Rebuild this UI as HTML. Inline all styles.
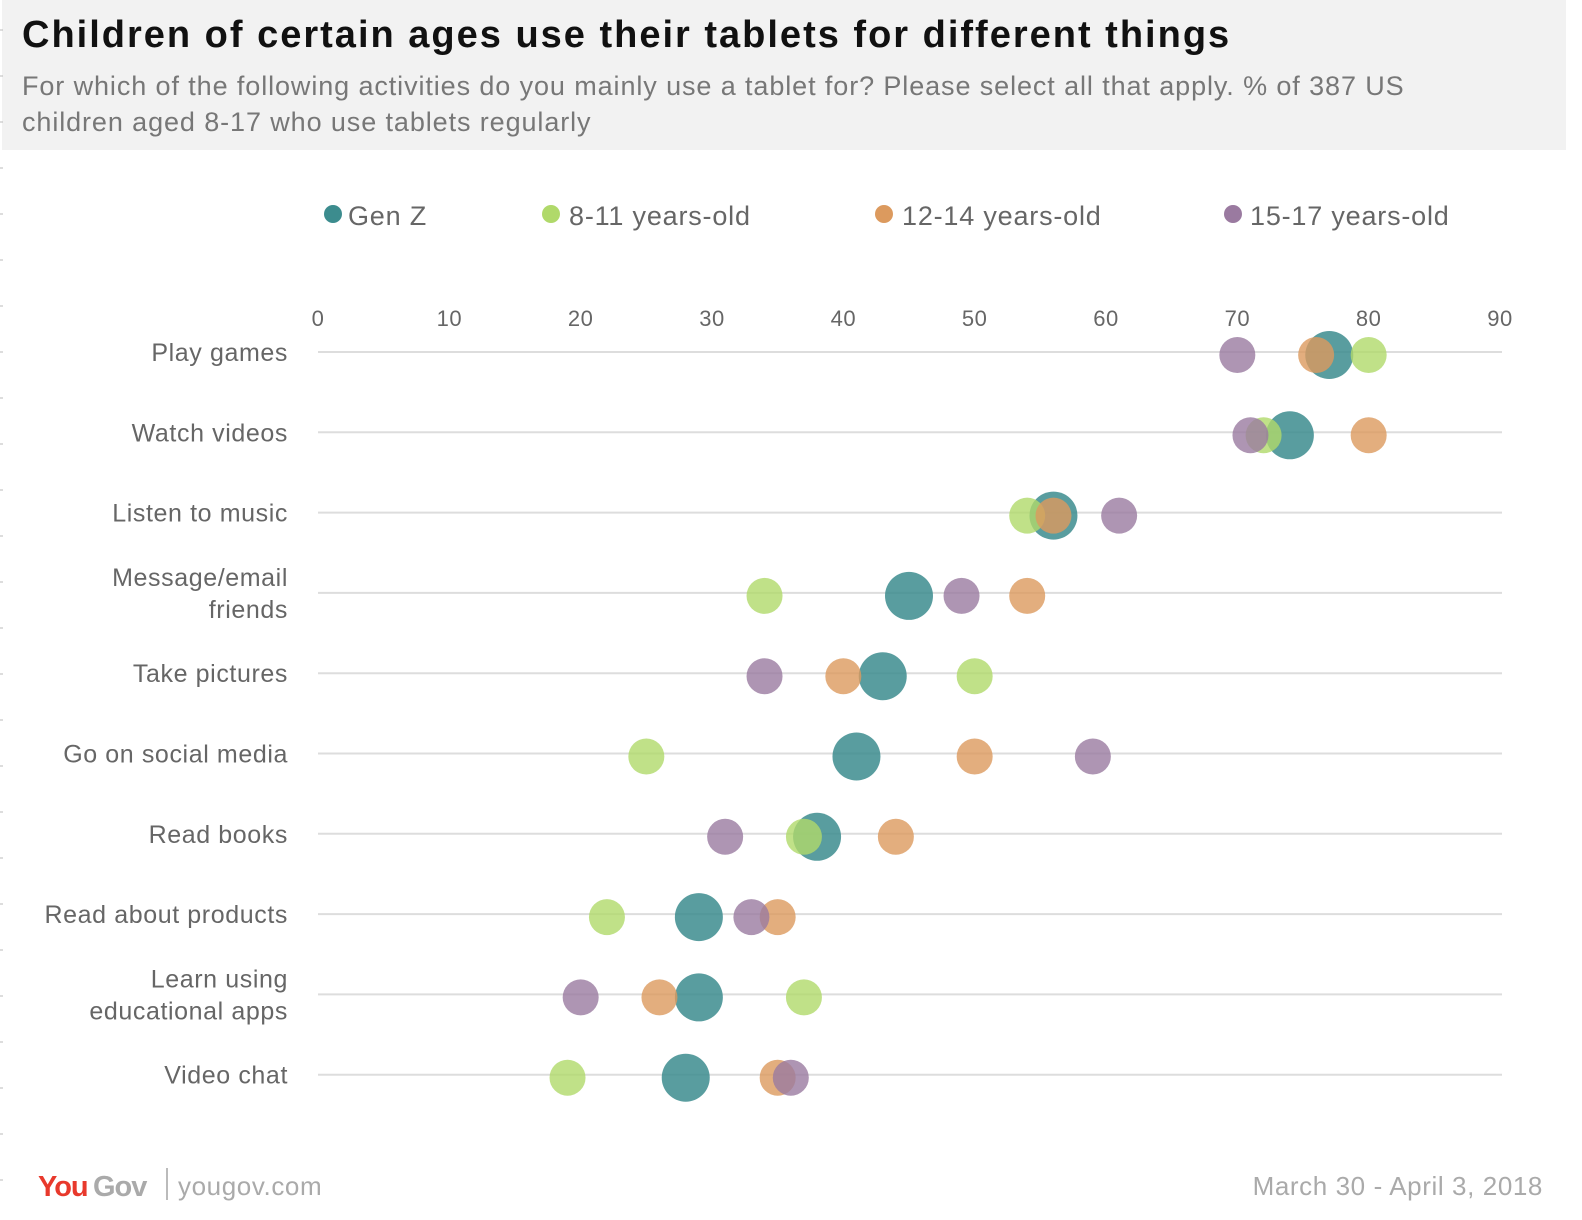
<!DOCTYPE html>
<html><head><meta charset="utf-8"><style>
body{margin:0;width:1582px;height:1220px;background:#fff;font-family:"Liberation Sans",sans-serif;overflow:hidden;position:relative}
#hdr{position:absolute;left:2px;top:0;width:1564px;height:150px;background:#f2f2f2}
#title{position:absolute;left:22px;top:14px;font-size:38px;font-weight:bold;color:#111;letter-spacing:2px;white-space:nowrap}
#sub{position:absolute;left:22px;top:68px;font-size:27px;color:#777;line-height:36px;width:1400px;letter-spacing:0.9px}
</style></head><body>
<div id="hdr"></div>
<div id="title">Children of certain ages use their tablets for different things</div>
<div id="sub">For which of the following activities do you mainly use a tablet for? Please select all that apply. % of 387 US children aged 8-17 who use tablets regularly</div>
<svg id="chart" width="1582" height="1220" style="position:absolute;left:0;top:0"></svg>
<script>
const categories=["Play games","Watch videos","Listen to music","Message/email|friends","Take pictures","Go on social media","Read books","Read about products","Learn using|educational apps","Video chat"];
const genZ=[77,74,56,45,43,41,38,29,29,28];
const age811=[80,72,54,34,50,25,37,22,37,19];
const age1214=[76,80,56,54,40,50,44,35,26,35];
const age1517=[70,71,61,49,34,59,31,33,20,36];
const ticks=[0,10,20,30,40,50,60,70,80,90];
const seriesNames=["Gen Z","8-11 years-old","12-14 years-old","15-17 years-old"];
const NS="http://www.w3.org/2000/svg";
const svg=document.getElementById('chart');
const x=v=>318+v*(1500-318)/90;
const y=i=>352+i*80.3;
function mk(t,a,txt){const e=document.createElementNS(NS,t);for(const k in a)e.setAttribute(k,a[k]);if(txt!=null)e.textContent=txt;svg.appendChild(e);return e;}
for(let yy=30;yy<1200;yy+=46){const m=mk('line',{x1:0,x2:3,y1:yy,y2:yy,stroke:'#bbb'});

}
ticks.forEach(t=>{const e=mk('text',{x:x(t),y:326,'text-anchor':'middle','font-size':22,fill:'#666','letter-spacing':0.5},t);

});
categories.forEach((c,i)=>{
const l=mk('line',{x1:318,x2:1502,y1:y(i),y2:y(i),stroke:'#ddd','stroke-width':2});


const parts=c.split('|');
parts.forEach((p,j)=>{const t=mk('text',{x:288,y:y(i)+9+(j-(parts.length-1)/2)*32,'text-anchor':'end','font-size':25,fill:'#666','letter-spacing':0.6},p);

});
});
const series=[[genZ,'#3c8c8e',24,0.85],[age811,'#b0d96a',18,0.8],[age1214,'#dc9a5e',18,0.8],[age1517,'#9a7aa0',18,0.8]];
series.forEach((s,k)=>{s[0].forEach((v,i)=>{const c=mk('circle',{cx:x(v),cy:y(i)+3,r:s[2],fill:s[1],'fill-opacity':s[3]});

});});
const lx=[333,551,884,1233],tx=[348,569,902,1250];
seriesNames.forEach((n,k)=>{const c=mk('circle',{cx:lx[k],cy:214,r:9,fill:series[k][1]});


const t=mk('text',{x:tx[k],y:225,'font-size':27,fill:'#666','letter-spacing':0.8},n);

});
let t1=mk('text',{x:38,y:1196,'font-size':29,'font-weight':'bold',fill:'#e8392c','letter-spacing':-1},'You');


let t2=mk('text',{x:93,y:1196,'font-size':29,'font-weight':'bold',fill:'#aaa','letter-spacing':-1},'Gov');


let ln=mk('line',{x1:167,x2:167,y1:1168,y2:1200,stroke:'#bbb','stroke-width':2});


let t3=mk('text',{x:178,y:1195,'font-size':26,fill:'#aaa','letter-spacing':0.6},'yougov.com');


let t4=mk('text',{x:1543,y:1195,'font-size':26,fill:'#aaa','text-anchor':'end','letter-spacing':0.6},'March 30 - April 3, 2018');


</script>
</body></html>
